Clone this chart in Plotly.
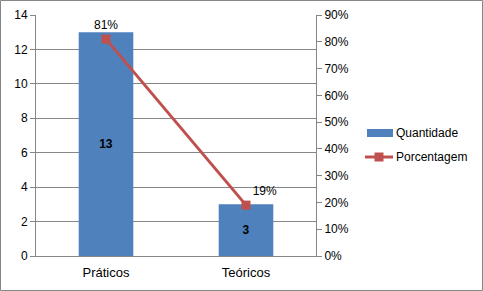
import plotly.graph_objects as go

categories = ["Práticos", "Teóricos"]
quantidade = [13, 3]
porcentagem = [0.81, 0.19]
pct_labels = ["81%", "19%"]
legend_names = ["Quantidade", "Porcentagem"]

bar_color = "#4F81BD"
line_color = "#C0504D"
grid = "#868686"
font = "Liberation Sans"

fig = go.Figure()
fig.add_trace(go.Bar(
    x=categories, y=quantidade, name=legend_names[0],
    marker=dict(color=bar_color, line=dict(width=0)),
    width=0.39,
    text=[f"<b>{v}</b>" for v in quantidade],
    textposition="inside", insidetextanchor="middle",
    textfont=dict(color="#000000", size=12, family=font),
    showlegend=False,
))
fig.add_trace(go.Scatter(
    x=categories, y=porcentagem, name=legend_names[1], yaxis="y2",
    mode="lines+markers+text",
    line=dict(color=line_color, width=3),
    marker=dict(symbol="square", size=9, color=line_color),
    text=pct_labels, textposition=["top center", "top right"],
    textfont=dict(color="#000000", size=12, family=font),
    showlegend=False,
))

W, H = 483, 291
l, r, t, b = 36, 167, 15, 35
pw, ph = W - l - r, H - t - b

def px(x):
    return (x - l) / pw

def py(y):
    return (H - b - y) / ph

fig.update_layout(
    width=W, height=H,
    margin=dict(l=l, r=r, t=t, b=b, autoexpand=False),
    paper_bgcolor="white", plot_bgcolor="white",
    font=dict(family=font, size=11, color="#000000"),
    xaxis=dict(showgrid=False, showline=True, linecolor=grid, linewidth=1,
               ticks="", tickfont=dict(size=13), range=[-0.5, 1.5], automargin=False,
               ticklabelstandoff=4),
    yaxis=dict(range=[0, 14], dtick=2, showgrid=True, gridcolor=grid, gridwidth=1,
               showline=True, linecolor=grid, linewidth=1, automargin=False,
               ticks="outside", ticklen=5, tickcolor=grid, zeroline=False,
               tickfont=dict(size=12)),
    yaxis2=dict(range=[0, 0.9], dtick=0.1, tickformat=".0%", overlaying="y", side="right",
                showgrid=False, showline=True, linecolor=grid, linewidth=1, automargin=False,
                ticks="outside", ticklen=5, tickcolor=grid, zeroline=False,
                tickfont=dict(size=12)),
    showlegend=False,
)
# outer chart border
fig.add_shape(type="rect", xref="paper", yref="paper",
              x0=px(0.5), x1=px(W - 0.5), y0=py(H - 0.5), y1=py(0.5),
              line=dict(color=grid, width=1), layer="below")
# manual legend (Excel style)
fig.add_shape(type="rect", xref="paper", yref="paper",
              x0=px(367), x1=px(393), y0=py(137), y1=py(129),
              fillcolor=bar_color, line=dict(width=0))
fig.add_shape(type="line", xref="paper", yref="paper",
              x0=px(365), x1=px(393), y0=py(157), y1=py(157),
              line=dict(color=line_color, width=3))
fig.add_shape(type="rect", xref="paper", yref="paper",
              x0=px(374.5), x1=px(383.5), y0=py(161.5), y1=py(152.5),
              fillcolor=line_color, line=dict(width=0))
for name, yy in zip(legend_names, [133, 157]):
    fig.add_annotation(text=name, xref="paper", yref="paper", x=px(394), y=py(yy),
                       xanchor="left", yanchor="middle", showarrow=False,
                       font=dict(size=12, family=font, color="#000000"))
fig.write_html("out.html", config={"displayModeBar": False},
               post_script="document.body.style.margin='0';")
